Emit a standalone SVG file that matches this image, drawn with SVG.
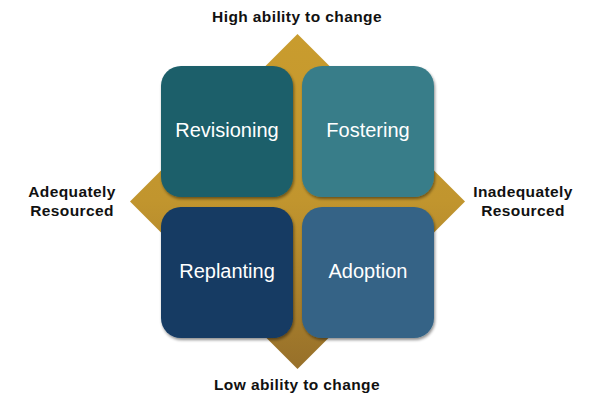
<svg xmlns="http://www.w3.org/2000/svg" width="594" height="394" viewBox="0 0 594 394">
<defs>
<linearGradient id="gold" x1="0" y1="0" x2="0" y2="1">
<stop offset="0" stop-color="#C99C2E"/>
<stop offset="0.5" stop-color="#C1952E"/>
<stop offset="1" stop-color="#97702A"/>
</linearGradient>
<filter id="sh" x="-10%" y="-10%" width="125%" height="125%">
<feGaussianBlur in="SourceAlpha" stdDeviation="1.5"/>
<feOffset dx="1" dy="2" result="b"/>
<feComponentTransfer><feFuncA type="linear" slope="0.45"/></feComponentTransfer>
<feMerge><feMergeNode/><feMergeNode in="SourceGraphic"/></feMerge>
</filter>
</defs>
<style>
.lbl{font-family:"Liberation Sans",Arial,sans-serif;font-weight:bold;font-size:15.5px;letter-spacing:0.4px;fill:#111;text-anchor:middle}
.box{font-family:"Liberation Sans",Arial,sans-serif;font-size:20px;fill:#fff;text-anchor:middle}
</style>
<g id="diamond"><polygon points="297.5,34 465,201.5 297.5,369 130,201.5" fill="url(#gold)"/></g>
<g id="revisioning"><rect x="161" y="66" width="132" height="131" rx="20" fill="#1B5E6A" filter="url(#sh)"/><text class="box" x="227" y="137">Revisioning</text></g>
<g id="fostering"><rect x="302" y="66" width="132" height="131" rx="20" fill="#397D89" filter="url(#sh)"/><text class="box" x="368" y="137">Fostering</text></g>
<g id="replanting"><rect x="161" y="207" width="132" height="131" rx="20" fill="#133A64" filter="url(#sh)"/><text class="box" x="227" y="278">Replanting</text></g>
<g id="adoption"><rect x="302" y="207" width="132" height="131" rx="20" fill="#346486" filter="url(#sh)"/><text class="box" x="368" y="278">Adoption</text></g>
<g id="connectors"></g>
<g id="labels">
<text class="lbl" x="297" y="22">High ability to change</text>
<text class="lbl" x="297" y="390">Low ability to change</text>
<text class="lbl" x="72" y="197">Adequately</text>
<text class="lbl" x="72" y="216">Resourced</text>
<text class="lbl" x="523" y="197">Inadequately</text>
<text class="lbl" x="523" y="216">Resourced</text>
</g>
</svg>
